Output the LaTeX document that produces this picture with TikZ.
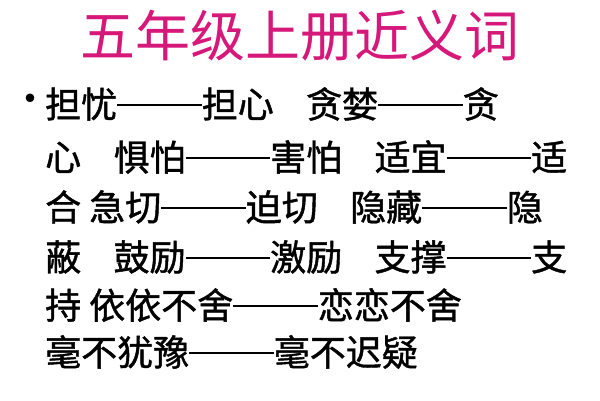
\documentclass[tikz,border=0pt]{standalone}
\usepackage{fontspec}
\newfontfamily\cjk{Noto Sans CJK SC}
\newfontfamily\cjkb[FakeBold=1.2]{Noto Sans CJK SC}
\definecolor{titlepink}{RGB}{214,24,122}
\newcommand{\pairdash}{\rule[0.33em]{2.35em}{1.8pt}}
\newcommand{\gap}{\hspace{0.9em}}
\tikzset{
  heading/.style={font=\cjk\fontsize{55}{60}\selectfont, text=titlepink, inner sep=0pt},
  textline/.style={font=\cjkb\fontsize{36}{38}\selectfont, anchor=west, inner sep=0pt},
  dot/.style={font=\cjk\fontsize{40}{40}\selectfont, anchor=center, inner sep=0pt}
}
\begin{document}
\begin{tikzpicture}[x=1pt,y=-1pt]
  \useasboundingbox (0,0) rectangle (600,400);
  % slide title
  \node[heading] (title) at (300,36) {五年级上册近义词};
  % word pairs, line by line
  \node[dot] (bullet) at (30,104) {•};
  \node[textline] (l1) at (45,104) {担忧\pairdash 担心\gap 贪婪\pairdash 贪};
  \node[textline] (l2) at (45,157) {心\gap 惧怕\pairdash 害怕\gap 适宜\pairdash 适};
  \node[textline] (l3) at (45,207) {合 急切\pairdash 迫切\gap 隐藏\pairdash 隐};
  \node[textline] (l4) at (45,257) {蔽\gap 鼓励\pairdash 激励\gap 支撑\pairdash 支};
  \node[textline] (l5) at (45,305) {持 依依不舍\pairdash 恋恋不舍};
  \node[textline] (l6) at (45,352) {毫不犹豫\pairdash 毫不迟疑};
\end{tikzpicture}
\end{document}
